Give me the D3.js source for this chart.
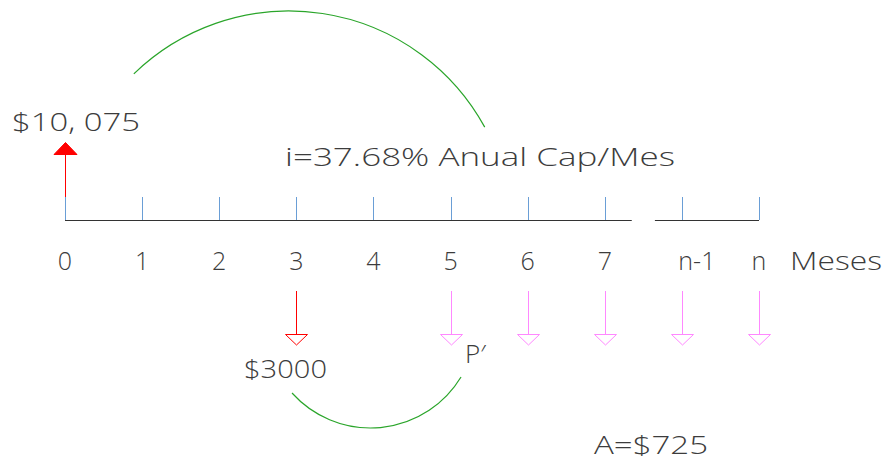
<!DOCTYPE html>
<html>
<head>
<meta charset="utf-8">
<script src="https://cdn.jsdelivr.net/npm/d3@7"></script>
<style>
  html, body { margin: 0; padding: 0; background: #fff; }
  svg text { font-family: "Open Sans", "DejaVu Sans", sans-serif; font-weight: 300; fill: #3c3c3c; }
</style>
</head>
<body>
<svg id="chart" width="888" height="461"></svg>
<script>
// ---- data ----
const periodLabels = ["0", "1", "2", "3", "4", "5", "6", "7", "n-1", "n"];
const periodIndex = [0, 1, 2, 3, 4, 5, 6, 7, 8, 9];
const unitLabel = "Meses";
const inflowPeriods = [0];
const inflowLabels = ["$10, 075"];
const lumpOutflowPeriods = [3];
const lumpOutflowLabels = ["$3000"];
const annuityPeriods = [5, 6, 7, 8, 9];
const annuityLabel = "A=$725";
const presentLabel = "P\u2032";
const rateLabel = "i=37.68% Anual Cap/Mes";
const axisSegments = [[0, 7.35], [7.65, 9]];

// ---- layout ----
const svg = d3.select("#chart");
const x = d3.scaleLinear().domain([0, 9]).range([65, 759]);
const axisY = 220, tickTop = 197;
const textColor = "#333";
const tickColor = "#6a9ed6";
const red = "#ff0000", pink = "#ff88ff", green = "#2aa52a";

// axis segments
svg.selectAll("line.axis").data(axisSegments).join("line")
  .attr("class", "axis")
  .attr("x1", d => x(d[0])).attr("x2", d => x(d[1]))
  .attr("y1", axisY + 0.5).attr("y2", axisY + 0.5)
  .attr("stroke", textColor).attr("stroke-width", 1.2);

// ticks
svg.selectAll("line.tick").data(periodIndex).join("line")
  .attr("class", "tick")
  .attr("x1", d => Math.round(x(d)) + 0.5).attr("x2", d => Math.round(x(d)) + 0.5)
  .attr("y1", tickTop).attr("y2", axisY)
  .attr("stroke", tickColor).attr("stroke-width", 1);

// period labels
svg.selectAll("text.plabel").data(periodIndex).join("text")
  .attr("class", "plabel")
  .attr("x", d => x(d) + (periodLabels[d] === "n-1" ? 15 : 0))
  .attr("y", 270)
  .attr("text-anchor", "middle")
  .attr("font-size", 25)
  .text(d => periodLabels[d]);

svg.append("text")
  .attr("x", 790).attr("y", 270)
  .attr("font-size", 25)
  .attr("textLength", 92).attr("lengthAdjust", "spacingAndGlyphs")
  .text(unitLabel);

// inflow arrow (up, filled red)
inflowPeriods.forEach((p, i) => {
  const cx = Math.round(x(p)) + 0.5;
  svg.append("line")
    .attr("x1", cx).attr("x2", cx).attr("y1", tickTop).attr("y2", 154)
    .attr("stroke", red).attr("stroke-width", 1);
  svg.append("path")
    .attr("d", `M${cx - 11.5},154.5 L${cx + 11.5},154.5 L${cx},142.5 Z`)
    .attr("fill", red).attr("stroke", red).attr("stroke-width", 1);
  svg.append("text")
    .attr("x", 12).attr("y", 131)
    .attr("font-size", 26)
    .attr("textLength", 128).attr("lengthAdjust", "spacingAndGlyphs")
    .text(inflowLabels[i]);
});

// down arrows
function downArrow(p, color) {
  const cx = Math.round(x(p)) + 0.5;
  svg.append("line")
    .attr("x1", cx).attr("x2", cx).attr("y1", 291).attr("y2", 334)
    .attr("stroke", color).attr("stroke-width", 1);
  svg.append("path")
    .attr("d", `M${cx - 11},334.5 L${cx + 11},334.5 L${cx},345 Z`)
    .attr("fill", "none").attr("stroke", color).attr("stroke-width", 1);
}
lumpOutflowPeriods.forEach(p => downArrow(p, red));
annuityPeriods.forEach(p => downArrow(p, pink));

// labels
svg.append("text")
  .attr("x", 244).attr("y", 378)
  .attr("font-size", 26)
  .attr("textLength", 83).attr("lengthAdjust", "spacingAndGlyphs")
  .text(lumpOutflowLabels[0]);

svg.append("text")
  .attr("x", 465).attr("y", 363)
  .attr("font-size", 26)
  .text(presentLabel);

svg.append("text")
  .attr("x", 285).attr("y", 166)
  .attr("font-size", 26)
  .attr("textLength", 390).attr("lengthAdjust", "spacingAndGlyphs")
  .text(rateLabel);

svg.append("text")
  .attr("x", 594).attr("y", 454)
  .attr("font-size", 25)
  .attr("textLength", 114).attr("lengthAdjust", "spacingAndGlyphs")
  .text(annuityLabel);

// arcs
const topArc = d3.path();
topArc.arc(289, 234, 223, Math.atan2(74 - 234, 134 - 289), Math.atan2(127 - 234, 485 - 289), false);
svg.append("path").attr("d", topArc.toString())
  .attr("fill", "none").attr("stroke", green).attr("stroke-width", 1.2);

const botArc = d3.path();
botArc.arc(370.6, 322.3, 105.7, Math.atan2(393 - 322.3, 292 - 370.6), Math.atan2(377 - 322.3, 461 - 370.6), true);
svg.append("path").attr("d", botArc.toString())
  .attr("fill", "none").attr("stroke", green).attr("stroke-width", 1.2);
</script>
</body>
</html>
